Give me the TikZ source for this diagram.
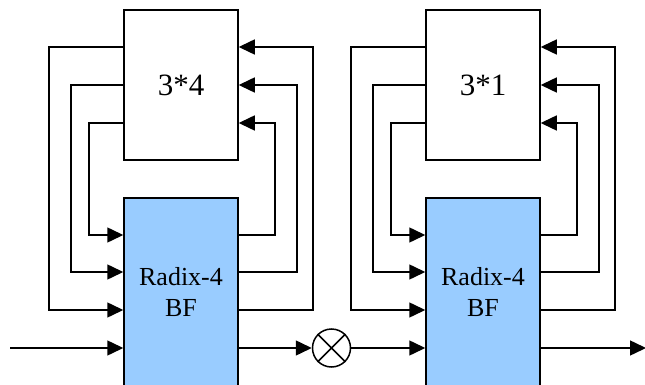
\documentclass[tikz,border=0pt]{standalone}
\usepackage{fontspec}
\setmainfont{Liberation Serif}
\usetikzlibrary{arrows.meta}
\definecolor{bfblue}{HTML}{99CCFF}
\begin{document}
\begin{tikzpicture}[x=1pt,y=-1pt,
  line width=1.5pt,
  arr/.style={-{Triangle[length=16pt,width=15pt]}},
  membox/.style={draw, fill=white, minimum width=114pt, minimum height=150pt, inner sep=0pt, font=\fontsize{31}{35}\selectfont},
  bfbox/.style={draw, fill=bfblue, minimum width=114pt, minimum height=188pt, inner sep=0pt, align=center, font=\fontsize{26}{31}\selectfont},
  mult/.style={draw, circle, minimum size=38pt, inner sep=0pt}
]
\useasboundingbox (0,0) rectangle (645,385);
% block 1
\node[membox] (T1) at (181,85) {3*4};
\node[bfbox] (B1) at (181,292) {Radix-4\\BF};
% block 2
\node[membox] (T2) at (483,85) {3*1};
\node[bfbox] (B2) at (483,292) {Radix-4\\BF};
% multiplier
\node[mult] (M) at (331.5,348) {};
\draw (M.north west) -- (M.south east) (M.north east) -- (M.south west);
\coordinate (in) at (10,348);
\coordinate (out) at (646,348);
% feedback block 1
\draw[arr] (T1.west |- 0,47) -| (49,310) -- (B1.west |- 0,310);
\draw[arr] (T1.west |- 0,85) -| (71,272) -- (B1.west |- 0,272);
\draw[arr] (T1.west |- 0,123) -| (89,235) -- (B1.west |- 0,235);
\draw[arr] (B1.east |- 0,235) -| (275,123) -- (T1.east |- 0,123);
\draw[arr] (B1.east |- 0,272) -| (297,85) -- (T1.east |- 0,85);
\draw[arr] (B1.east |- 0,310) -| (313,47) -- (T1.east |- 0,47);
% feedback block 2
\draw[arr] (T2.west |- 0,47) -| (351,310) -- (B2.west |- 0,310);
\draw[arr] (T2.west |- 0,85) -| (373,272) -- (B2.west |- 0,272);
\draw[arr] (T2.west |- 0,123) -| (391,235) -- (B2.west |- 0,235);
\draw[arr] (B2.east |- 0,235) -| (577,123) -- (T2.east |- 0,123);
\draw[arr] (B2.east |- 0,272) -| (599,85) -- (T2.east |- 0,85);
\draw[arr] (B2.east |- 0,310) -| (615,47) -- (T2.east |- 0,47);
% main path
\draw[arr] (in) -- (B1.west |- in);
\draw[arr] (B1.east |- in) -- (M);
\draw[arr] (M) -- (B2.west |- in);
\draw[arr] (B2.east |- in) -- (out);
\end{tikzpicture}
\end{document}
